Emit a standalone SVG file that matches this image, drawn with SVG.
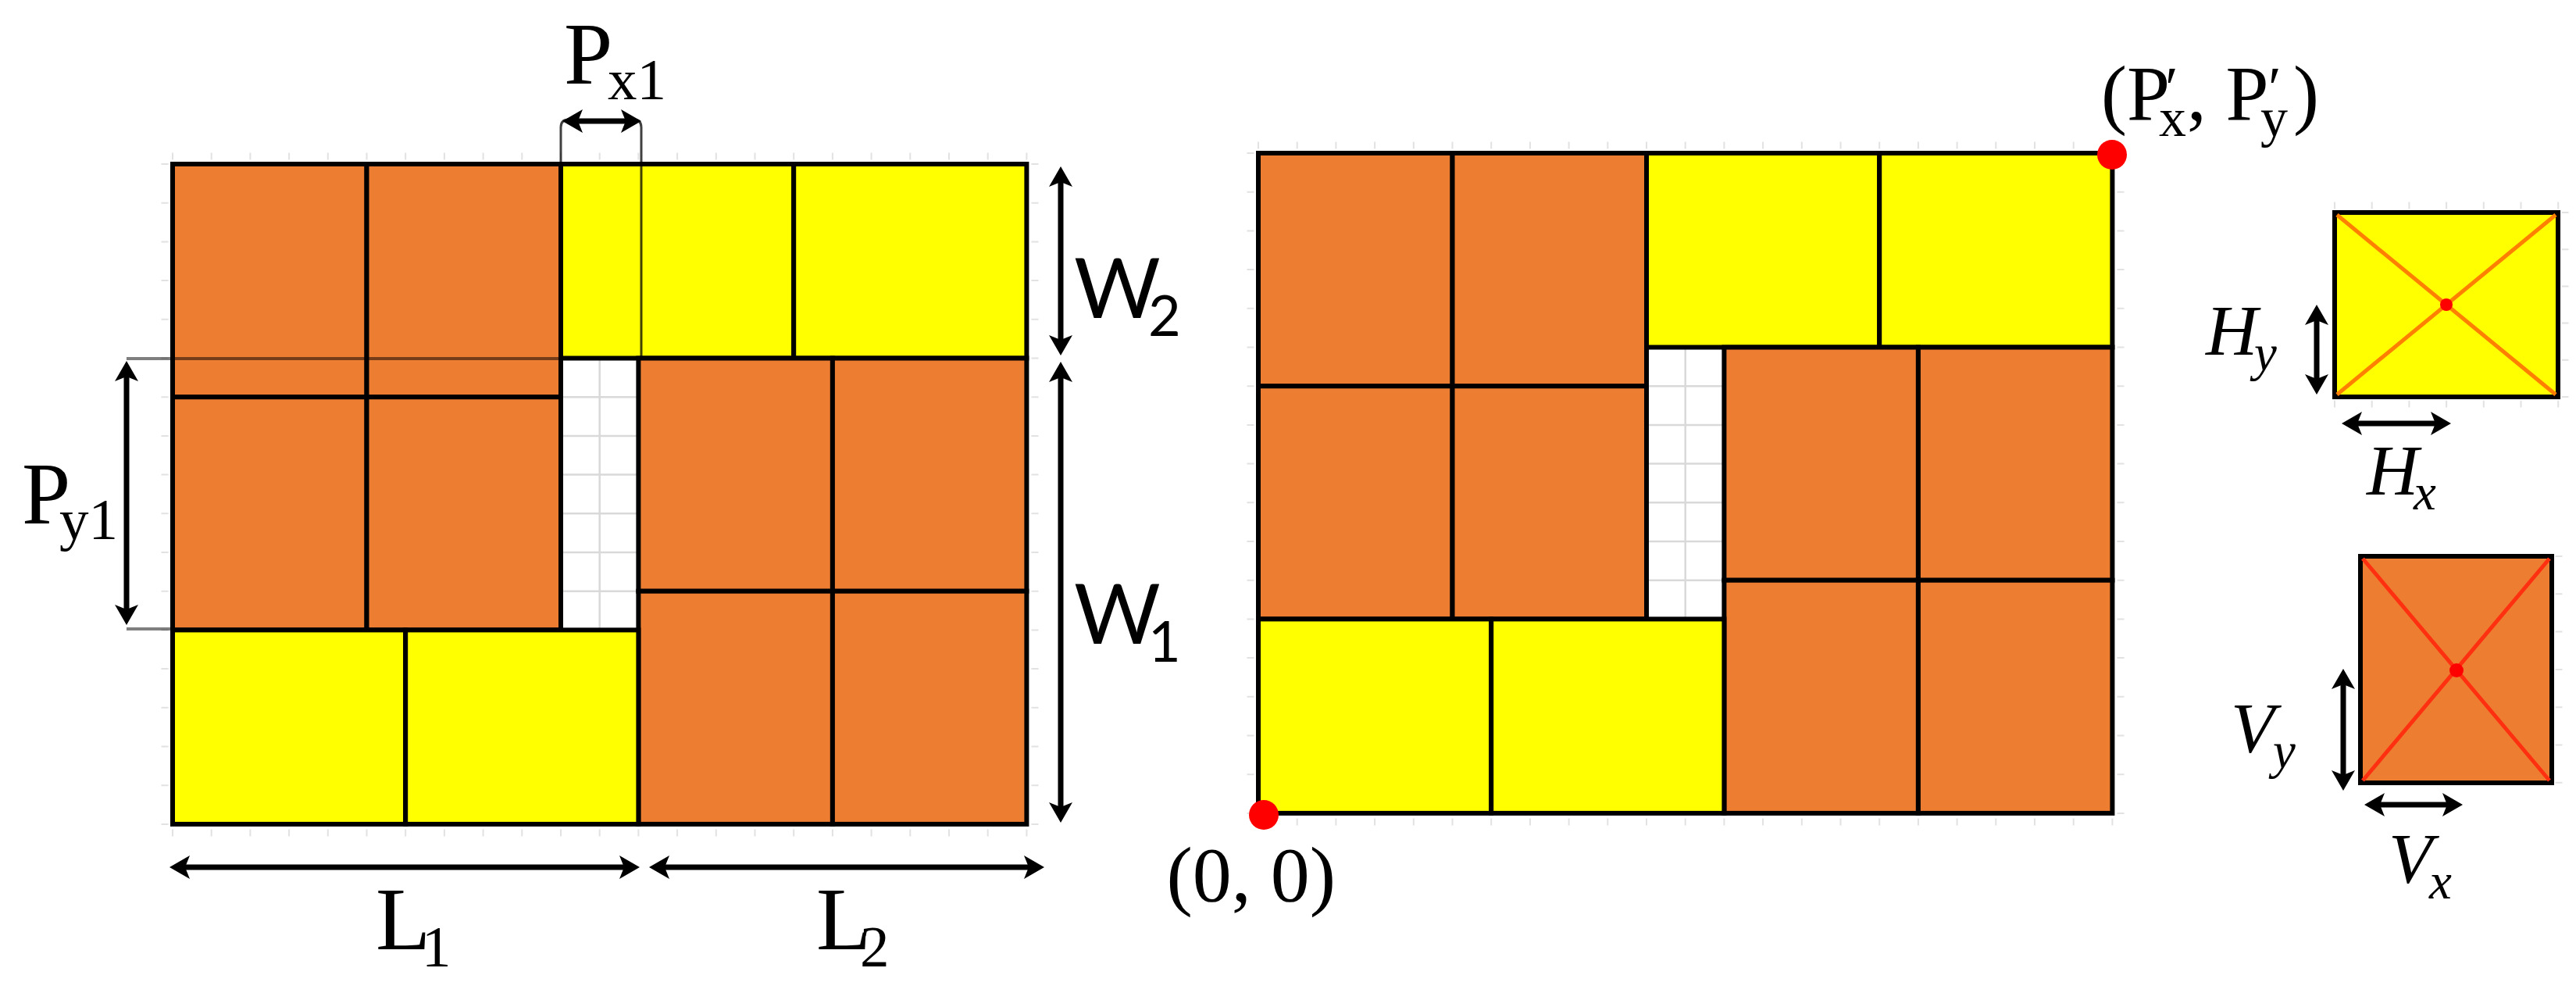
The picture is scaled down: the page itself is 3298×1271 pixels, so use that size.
<svg xmlns="http://www.w3.org/2000/svg" width="3298" height="1271" viewBox="0 0 3298 1271">
<style>
.o{fill:#ED7D31;stroke:#000;stroke-width:6}
.y{fill:#FFFF00;stroke:#000;stroke-width:6}
.gap{fill:#fff;stroke:none}
.grid{stroke:#d9d9d9;stroke-width:2.5;fill:none}
.tick{stroke:#e2e2e2;stroke-width:9;fill:none;stroke-dasharray:2 47.7}
.dim{stroke:#000;stroke-width:7;fill:none;marker-start:url(#ah);marker-end:url(#ah)}
.ext{stroke:#000;stroke-opacity:0.5;stroke-width:4;fill:none}
.serif{font-family:"Liberation Serif","DejaVu Serif",serif;fill:#000}
.sans{font-family:Lato,"Liberation Sans",sans-serif;fill:#000}
.it{font-family:"Liberation Serif","DejaVu Serif",serif;font-style:italic;fill:#000}
.dot{fill:#FF0000}
</style>
<defs>
<marker id="ah" markerUnits="userSpaceOnUse" markerWidth="40" markerHeight="40" viewBox="-20 -20 40 40" refX="0" refY="0" orient="auto-start-reverse">
<path d="M14,0 L-12,-15 L-6,0 L-12,15 Z" fill="#000"/>
</marker>
</defs>
<rect width="3298" height="1271" fill="#fff"/>

<!-- LEFT LAYOUT -->
<g id="layout-left" transform="translate(221,210)">
<g id="left-ticks">
<line class="tick" x1="-1" y1="-10" x2="1096" y2="-10"/>
<line class="tick" x1="1104" y1="-1" x2="1104" y2="846"/>
<line class="tick" x1="-1" y1="856" x2="1096" y2="856"/>
<line class="tick" x1="-10" y1="-1" x2="-10" y2="846"/>
</g>
<g id="left-gap">
<rect class="gap" x="497" y="248.5" width="99.4" height="347.9"/>
<path class="grid" d="M546.7,248.5V596.4M497,298.2H596.4M497,347.9H596.4M497,397.6H596.4M497,447.3H596.4M497,497H596.4M497,546.7H596.4"/>
</g>
<g id="left-V1"><rect class="o" x="0" y="0" width="248.5" height="298.2"/></g>
<g id="left-V2"><rect class="o" x="248.5" y="0" width="248.5" height="298.2"/></g>
<g id="left-V3"><rect class="o" x="0" y="298.2" width="248.5" height="298.2"/></g>
<g id="left-V4"><rect class="o" x="248.5" y="298.2" width="248.5" height="298.2"/></g>
<g id="left-H1"><rect class="y" x="497" y="0" width="298.2" height="248.5"/></g>
<g id="left-H2"><rect class="y" x="795.2" y="0" width="298.2" height="248.5"/></g>
<g id="left-V5"><rect class="o" x="596.4" y="248.5" width="248.5" height="298.2"/></g>
<g id="left-V6"><rect class="o" x="844.9" y="248.5" width="248.5" height="298.2"/></g>
<g id="left-V7"><rect class="o" x="596.4" y="546.7" width="248.5" height="298.2"/></g>
<g id="left-V8"><rect class="o" x="844.9" y="546.7" width="248.5" height="298.2"/></g>
<g id="left-H3"><rect class="y" x="0" y="596.4" width="298.2" height="248.5"/></g>
<g id="left-H4"><rect class="y" x="298.2" y="596.4" width="298.2" height="248.5"/></g>
</g>

<!-- MIDDLE LAYOUT -->
<g id="layout-middle" transform="translate(1611,196)">
<g id="mid-ticks">
<line class="tick" x1="-1" y1="-10" x2="1096" y2="-10"/>
<line class="tick" x1="1104" y1="-1" x2="1104" y2="846"/>
<line class="tick" x1="-1" y1="856" x2="1096" y2="856"/>
<line class="tick" x1="-10" y1="-1" x2="-10" y2="846"/>
</g>
<g id="mid-gap">
<rect class="gap" x="497" y="248.5" width="99.4" height="347.9"/>
<path class="grid" d="M546.7,248.5V596.4M497,298.2H596.4M497,347.9H596.4M497,397.6H596.4M497,447.3H596.4M497,497H596.4M497,546.7H596.4"/>
</g>
<g id="mid-V1"><rect class="o" x="0" y="0" width="248.5" height="298.2"/></g>
<g id="mid-V2"><rect class="o" x="248.5" y="0" width="248.5" height="298.2"/></g>
<g id="mid-V3"><rect class="o" x="0" y="298.2" width="248.5" height="298.2"/></g>
<g id="mid-V4"><rect class="o" x="248.5" y="298.2" width="248.5" height="298.2"/></g>
<g id="mid-H1"><rect class="y" x="497" y="0" width="298.2" height="248.5"/></g>
<g id="mid-H2"><rect class="y" x="795.2" y="0" width="298.2" height="248.5"/></g>
<g id="mid-V5"><rect class="o" x="596.4" y="248.5" width="248.5" height="298.2"/></g>
<g id="mid-V6"><rect class="o" x="844.9" y="248.5" width="248.5" height="298.2"/></g>
<g id="mid-V7"><rect class="o" x="596.4" y="546.7" width="248.5" height="298.2"/></g>
<g id="mid-V8"><rect class="o" x="844.9" y="546.7" width="248.5" height="298.2"/></g>
<g id="mid-H3"><rect class="y" x="0" y="596.4" width="298.2" height="248.5"/></g>
<g id="mid-H4"><rect class="y" x="298.2" y="596.4" width="298.2" height="248.5"/></g>
<circle class="dot" cx="7" cy="847" r="19"/>
<circle class="dot" cx="1093" cy="2" r="19"/>
</g>

<!-- HORIZONTAL BOX (H) -->
<g id="box-H">
<line class="tick" x1="2988" y1="263" x2="3278" y2="263" style="stroke-dasharray:2 45.7"/>
<line class="tick" x1="2988" y1="517" x2="3278" y2="517" style="stroke-dasharray:2 45.7"/>
<line class="tick" x1="3284" y1="271" x2="3284" y2="510" style="stroke-dasharray:2 45.2"/>
<rect class="y" x="2989" y="272" width="286" height="236"/>
<path d="M2992,275L3272,505M3272,275L2992,505" stroke="#FF8000" stroke-width="5" fill="none"/>
<circle class="dot" cx="3132" cy="390" r="8"/>
</g>

<!-- VERTICAL BOX (V) -->
<g id="box-V">
<line class="tick" x1="3276" y1="711" x2="3276" y2="1004" style="stroke-dasharray:2 46.3"/>
<rect class="o" x="3022" y="712" width="245" height="290"/>
<path d="M3025,715L3264,999M3264,715L3025,999" stroke="#FF3010" stroke-width="5" fill="none"/>
<circle class="dot" cx="3145" cy="858" r="9"/>
</g>

<!-- CONNECTORS / DIMENSIONS -->
<g id="connectors">
<path class="ext" d="M162,459H718M162,805H221"/>
<path d="M718,458V163Q718,153 728,153M821,458V163Q821,153 811,153" stroke="#000" stroke-opacity="0.75" stroke-width="3" fill="none"/>
<line class="dim" x1="734" y1="155" x2="807" y2="155"/>
<line class="dim" x1="162" y1="476" x2="162" y2="786"/>
<line class="dim" x1="1358" y1="227" x2="1358" y2="441"/>
<line class="dim" x1="1358" y1="477" x2="1358" y2="1039"/>
<line class="dim" x1="231" y1="1110" x2="805" y2="1110"/>
<line class="dim" x1="845" y1="1110" x2="1323" y2="1110"/>
<line class="dim" x1="2966" y1="404" x2="2966" y2="491"/>
<line class="dim" x1="3012" y1="542" x2="3124" y2="542"/>
<line class="dim" x1="3000" y1="870" x2="3000" y2="998"/>
<line class="dim" x1="3041" y1="1030" x2="3139" y2="1030"/>
</g>

<!-- LABELS -->
<g id="labels">
<text class="serif" x="722" y="107" font-size="112">P<tspan x="778" y="127" font-size="75">x1</tspan></text>
<text class="serif" x="28" y="670" font-size="112">P<tspan x="76" y="690" font-size="75">y1</tspan></text>
<text class="sans" x="1375" y="407" font-size="107">W<tspan x="1470" y="430" font-size="72">2</tspan></text>
<text class="sans" x="1375" y="824" font-size="107">W<tspan x="1470" y="847" font-size="72">1</tspan></text>
<text class="serif" x="481" y="1215" font-size="115">L<tspan x="540" y="1237" font-size="75">1</tspan></text>
<text class="serif" x="1045" y="1215" font-size="115">L<tspan x="1101" y="1237" font-size="75">2</tspan></text>
<text class="serif" x="1710" y="1153" font-size="100" text-anchor="end">(0, 0)</text>
<text class="serif" font-size="99"><tspan x="2690" y="153">(P</tspan><tspan x="2772" y="138" font-size="76">′</tspan><tspan x="2764" y="174" font-size="70">x</tspan><tspan x="2800" y="153">, P</tspan><tspan x="2904" y="138" font-size="76">′</tspan><tspan x="2894" y="174" font-size="70">y</tspan><tspan x="2936" y="153">)</tspan></text>
<text class="it" x="2824" y="454" font-size="92">H<tspan x="2886" y="474" font-size="65">y</tspan></text>
<text class="it" x="3030" y="633" font-size="92">H<tspan x="3090" y="652" font-size="65">x</tspan></text>
<text class="it" x="2856" y="963" font-size="92">V<tspan x="2910" y="983" font-size="65">y</tspan></text>
<text class="it" x="3058" y="1130" font-size="92">V<tspan x="3110" y="1150" font-size="65">x</tspan></text>
</g>
</svg>
